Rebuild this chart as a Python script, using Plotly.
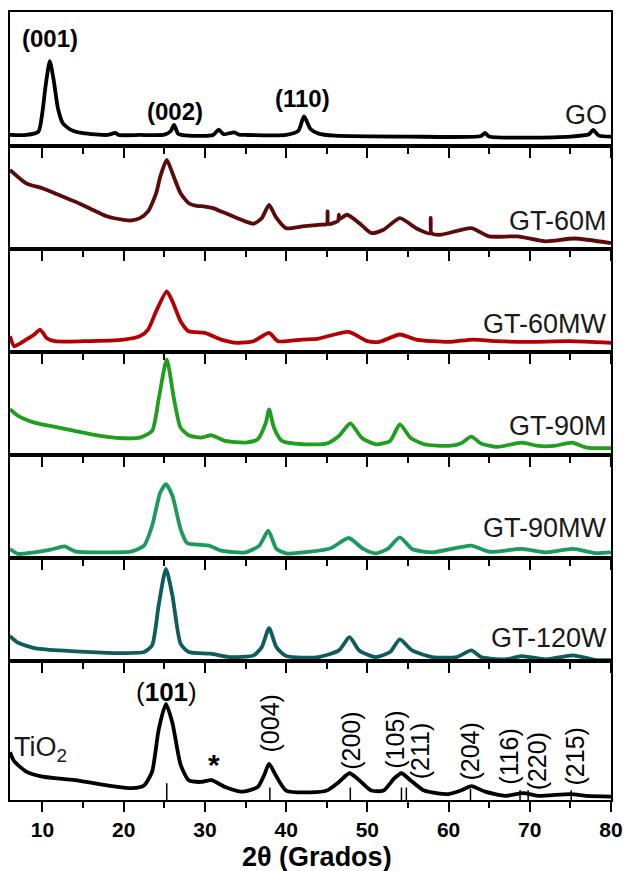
import plotly.graph_objects as go

# ---------------- data (intensity as fraction of panel height) -------------
go_x = [6, 8, 9.5, 10, 10.4, 10.9, 11.4, 11.9, 12.5, 13.5, 15, 18, 19, 19.4, 22, 25, 25.8, 26.2, 26.7, 28, 31,
        31.7, 32.3, 33.6, 34.2, 35, 40, 41.5, 42.2, 43, 44, 46, 55, 64, 64.5, 65, 75, 77.3, 77.8, 78.5, 80]
go_y = [0.08, 0.08, 0.105, 0.256, 0.456, 0.632, 0.481, 0.28, 0.168, 0.118, 0.093, 0.08, 0.095, 0.08, 0.08, 0.082,
        0.11, 0.155, 0.09, 0.075, 0.08, 0.12, 0.085, 0.1, 0.082, 0.08, 0.08, 0.11, 0.218, 0.125, 0.09, 0.075, 0.068,
        0.072, 0.095, 0.068, 0.068, 0.085, 0.118, 0.075, 0.068]

m60_x = [6, 8, 10, 12, 14, 16, 18, 20, 21, 22, 23, 24, 24.5, 25.3, 26, 27, 28, 29, 30, 31, 32, 33, 34, 35, 36,
         37, 37.9, 38.7, 40, 42, 44, 45.0, 45.1, 45.2, 46, 46.4, 46.5, 46.6, 47.5, 49, 50.5, 52, 54, 56, 57.7,
         57.8, 57.9, 59, 62.8, 65, 68.5, 72, 75.5, 80]
m60_y = [0.765, 0.635, 0.587, 0.523, 0.458, 0.384, 0.313, 0.281, 0.275, 0.297, 0.362, 0.539, 0.70, 0.862, 0.732,
         0.539, 0.442, 0.417, 0.41, 0.394, 0.362, 0.33, 0.297, 0.265, 0.243, 0.297, 0.426, 0.313, 0.20, 0.217,
         0.233, 0.24, 0.362, 0.24, 0.255, 0.27, 0.33, 0.29, 0.33, 0.249, 0.152, 0.185, 0.297, 0.20, 0.15, 0.30,
         0.15, 0.136, 0.20, 0.12, 0.12, 0.072, 0.10, 0.055]

mw60_x = [6, 6.5, 7, 8, 9, 9.7, 10.5, 11.5, 15, 20, 22, 23, 24, 25.3, 26, 27, 28, 30, 32, 34, 36, 37.9, 39, 42,
          44, 47.7, 50, 51.5, 54, 56, 60, 63, 66, 70, 75, 80]
mw60_y = [0.153, 0.056, 0.072, 0.12, 0.169, 0.217, 0.136, 0.104, 0.104, 0.12, 0.153, 0.217, 0.395, 0.588, 0.491,
          0.298, 0.201, 0.185, 0.12, 0.088, 0.104, 0.185, 0.104, 0.12, 0.13, 0.195, 0.104, 0.098, 0.169, 0.12,
          0.097, 0.12, 0.104, 0.098, 0.104, 0.088]

m90_x = [6, 7, 9, 12, 15, 18, 20, 22, 23.5, 24.3, 25.3, 26.2, 27, 28, 29.5, 30.8, 32.5, 35, 36.5, 37.5, 37.9,
         38.5, 39.5, 42, 45, 46.5, 47.9, 49.3, 51, 52.8, 54, 55.3, 57, 60, 61.5, 62.8, 64, 66, 69, 71, 73, 75.2,
         77, 80]
m90_y = [0.444, 0.379, 0.314, 0.266, 0.218, 0.176, 0.163, 0.169, 0.234, 0.54, 0.927, 0.54, 0.266, 0.192, 0.169,
         0.192, 0.137, 0.121, 0.153, 0.314, 0.444, 0.266, 0.137, 0.105, 0.112, 0.185, 0.308, 0.169, 0.105, 0.137,
         0.298, 0.169, 0.105, 0.089, 0.112, 0.179, 0.112, 0.079, 0.121, 0.089, 0.089, 0.121, 0.072, 0.067]

mw90_x = [6, 7, 9, 11, 12.7, 14, 18, 21, 22.5, 23.5, 24.5, 25.2, 26, 27, 27.8, 29.5, 30.5, 32, 35, 36.7, 37.8,
          38.8, 40, 43, 45.5, 47.7, 49.5, 51, 52.5, 54, 55.5, 58, 62.8, 65, 69, 72, 75.3, 78, 80]
mw90_y = [0.09, 0.042, 0.057, 0.083, 0.115, 0.067, 0.057, 0.067, 0.122, 0.315, 0.637, 0.718, 0.605, 0.283, 0.148,
          0.129, 0.122, 0.073, 0.057, 0.122, 0.267, 0.09, 0.047, 0.063, 0.096, 0.196, 0.09, 0.047, 0.09, 0.202,
          0.09, 0.057, 0.122, 0.063, 0.09, 0.057, 0.09, 0.05, 0.057]

w120_x = [6, 7, 9, 12, 16, 20, 22.5, 23.5, 24.3, 25.2, 26, 27, 28, 30.7, 33, 36, 37, 37.9, 38.8, 40, 44, 46.5,
          47.8, 49, 51, 52.8, 54, 55.5, 58, 61, 62.8, 64, 67, 69, 72, 75.3, 78, 80]
w120_y = [0.245, 0.18, 0.129, 0.106, 0.09, 0.08, 0.09, 0.155, 0.542, 0.897, 0.638, 0.171, 0.09, 0.074, 0.042,
          0.058, 0.138, 0.322, 0.138, 0.051, 0.042, 0.106, 0.235, 0.106, 0.042, 0.09, 0.213, 0.106, 0.042, 0.042,
          0.106, 0.042, 0.019, 0.051, 0.019, 0.058, 0.015, 0.012]

tio2_x = [6, 6.5, 8, 10, 14, 18, 21, 22.5, 23.5, 24.3, 25.2, 26, 27, 28, 29.5, 30.8, 32.5, 34.5, 36.5, 37.3,
          37.9, 38.7, 40, 43, 45, 46.5, 47.8, 49, 50.5, 52, 53.3, 54.2, 55.3, 57, 60, 61.5, 62.8, 64.5, 67, 69.2,
          71, 75, 77, 80]
tio2_y = [0.344, 0.28, 0.205, 0.168, 0.143, 0.105, 0.085, 0.105, 0.205, 0.506, 0.694, 0.556, 0.256, 0.143, 0.13,
          0.143, 0.093, 0.06, 0.093, 0.18, 0.261, 0.18, 0.068, 0.055, 0.068, 0.13, 0.193, 0.143, 0.068, 0.068,
          0.155, 0.193, 0.143, 0.068, 0.043, 0.068, 0.1, 0.06, 0.03, 0.05, 0.03, 0.043, 0.03, 0.025]

# reference sticks (anatase) in the TiO2 panel
stick_x = [25.3, 38.0, 47.9, 54.2, 54.8, 62.7, 68.8, 69.8, 75.1]
stick_h = [0.12, 0.09, 0.09, 0.09, 0.09, 0.08, 0.07, 0.07, 0.07]

# miller index labels
go_hkl = ["(001)", "(002)", "(110)"]
go_hkl_x = [10.9, 26.3, 42.0]
go_hkl_y = [0.80, 0.256, 0.353]

tio2_hkl = ["(004)", "(200)", "(105)", "(211)", "(204)", "(116)", "(220)", "(215)"]
tio2_hkl_x = [38.0, 47.9, 53.3, 56.5, 62.7, 67.5, 71.0, 75.6]
tio2_hkl_y = [0.551, 0.429, 0.436, 0.353, 0.346, 0.316, 0.278, 0.316]

names = ["GO", "GT-60M", "GT-60MW", "GT-90M", "GT-90MW", "GT-120W", "TiO<sub>2</sub>"]
colors = ["#000000", "#5c0a0a", "#b40000", "#1f9e1f", "#1c9a5e", "#0e5c5c", "#000000"]
label_y = [0.23, 0.27, 0.275, 0.28, 0.292, 0.225, 0.37]
series_x = [go_x, m60_x, mw60_x, m90_x, mw90_x, w120_x, tio2_x]
series_y = [go_y, m60_y, mw60_y, m90_y, mw90_y, w120_y, tio2_y]

x_ticks = [10, 20, 30, 40, 50, 60, 70, 80]

# ---------------- layout geometry ----------------
W, H = 633, 871
top_px, bot_px = 10, 800
bounds_px = [10, 144, 247.4, 350.8, 454.2, 557.6, 661, 800]
span = bot_px - top_px
domains = []
for i in range(7):
    y0 = (bot_px - bounds_px[i + 1]) / span
    y1 = (bot_px - bounds_px[i]) / span
    domains.append([max(0, y0), min(1, y1)])

FONT = "Liberation Sans, Arial, sans-serif"
fig = go.Figure()
layout = dict(
    width=W, height=H,
    margin=dict(l=10, r=13, t=top_px, b=H - bot_px),
    paper_bgcolor="white", plot_bgcolor="white",
    showlegend=False,
    font=dict(family=FONT, color="black"),
)
annotations = []

for i in range(7):
    k = "" if i == 0 else str(i + 1)
    xa, ya = "x" + k, "y" + k
    fig.add_trace(go.Scatter(
        x=series_x[i], y=series_y[i], mode="lines", xaxis=xa, yaxis=ya,
        line=dict(color=colors[i], width=3.8, shape="spline", smoothing=0.6),
        hoverinfo="skip"))
    last = (i == 6)
    layout["xaxis" + k] = dict(
        domain=[0, 1], anchor=ya, range=[6, 80],
        showline=True, linecolor="black", linewidth=2, mirror=True,
        showgrid=False, zeroline=False,
        ticks="outside", ticklen=10, tickwidth=2, tickcolor="black",
        tickmode="array", tickvals=x_ticks,
        minor=dict(tickmode="array", tickvals=[15, 25, 35, 45, 55, 65, 75],
                   ticks="outside", ticklen=6, tickwidth=2, tickcolor="black"),
        showticklabels=last,
        tickfont=dict(family=FONT, size=21, color="black", weight="bold"),
    )
    if i > 0:
        layout["xaxis" + k]["matches"] = "x"
    layout["yaxis" + k] = dict(
        domain=domains[i], anchor=xa, range=[0, 1],
        showline=True, linecolor="black", linewidth=2, mirror=True,
        showgrid=False, zeroline=False, ticks="", showticklabels=False,
    )
    if i < 6:
        annotations.append(dict(x=79.7, y=label_y[i], xref=xa, yref=ya, text=names[i],
                                showarrow=False, xanchor="right", yanchor="middle",
                                font=dict(family=FONT, size=27, color="#1a1a1a")))

# TiO2 sticks
for sx, sh in zip(stick_x, stick_h):
    fig.add_trace(go.Scatter(x=[sx, sx], y=[0, sh], mode="lines", xaxis="x7", yaxis="y7",
                             line=dict(color="black", width=1.5), hoverinfo="skip"))

# GO labels
for t, lx, ly in zip(go_hkl, go_hkl_x, go_hkl_y):
    annotations.append(dict(x=lx, y=ly, xref="x", yref="y", text="<b>" + t + "</b>", showarrow=False,
                            font=dict(family=FONT, size=24, color="black")))

# TiO2 labels
annotations.append(dict(x=25.3, y=0.782, xref="x7", yref="y7", text="(<b>101</b>)", showarrow=False,
                        font=dict(family=FONT, size=26, color="black")))
for t, lx, ly in zip(tio2_hkl, tio2_hkl_x, tio2_hkl_y):
    annotations.append(dict(x=lx, y=ly, xref="x7", yref="y7", text=t, showarrow=False, textangle=-90,
                            font=dict(family=FONT, size=25, color="black")))
annotations.append(dict(x=31.1, y=0.256, xref="x7", yref="y7", text="<b>*</b>", showarrow=False,
                        font=dict(family=FONT, size=30, color="black")))
annotations.append(dict(x=6.2, y=label_y[6], xref="x7", yref="y7", text=names[6], showarrow=False,
                        xanchor="left", font=dict(family=FONT, size=27, color="#1a1a1a")))

# x-axis title
annotations.append(dict(x=0.51, y=(bot_px - 857) / span, xref="paper", yref="paper",
                        text="<b>2θ (Grados)</b>", showarrow=False, yanchor="middle",
                        font=dict(family=FONT, size=27, color="black")))

layout["annotations"] = annotations
fig.update_layout(**layout)
fig.write_html("out.html")
